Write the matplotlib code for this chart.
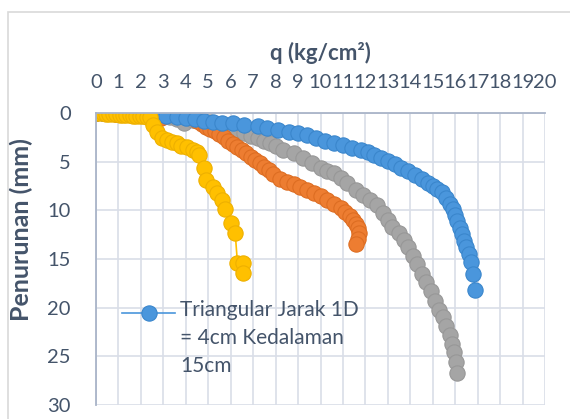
import matplotlib
matplotlib.use('Agg')
import matplotlib.pyplot as plt
from matplotlib.patches import Rectangle
from matplotlib.lines import Line2D

# Data: q (kg/cm2) vs settlement (mm)
blue_q = [0, 0.3, 0.6, 0.9, 1.2, 1.6, 2.0, 2.4, 2.7, 3.1, 3.6, 4.0, 4.4, 4.8, 5.2,
          5.6, 6.1, 6.6, 7.2, 7.6, 8.1, 8.6, 9.0, 9.4, 9.8, 10.2, 10.6, 11.0, 11.4,
          11.8, 12.1, 12.4, 12.7, 13.0, 13.3, 13.6, 13.9, 14.2, 14.5, 14.8, 15.0,
          15.2, 15.4, 15.6, 15.75, 15.9, 16.0, 16.1, 16.2, 16.3, 16.4, 16.5, 16.6,
          16.7, 16.8, 16.9]
blue_s = [0, 0, 0.02, 0.05, 0.08, 0.1, 0.1, 0.15, 0.2, 0.3, 0.45, 0.55, 0.65, 0.8,
          0.9, 1.0, 1.05, 1.2, 1.35, 1.5, 1.7, 2.0, 2.1, 2.3, 2.6, 2.9, 3.1, 3.3,
          3.6, 3.8, 4.0, 4.3, 4.6, 4.9, 5.2, 5.6, 6.0, 6.4, 6.8, 7.2, 7.5, 7.8,
          8.1, 8.7, 9.3, 9.9, 10.5, 11.1, 11.8, 12.4, 13.1, 13.8, 14.5, 15.3,
          16.5, 18.2]

orange_q = [0, 0.3, 0.6, 0.9, 1.2, 1.5, 1.8, 2.1, 2.4, 2.7, 2.9, 4.3, 4.5, 4.7, 4.9,
            5.1, 5.3, 5.5, 5.7, 5.9, 6.1, 6.3, 6.5, 6.7, 6.9, 7.1, 7.3, 7.5, 7.7,
            7.9, 8.2, 8.5, 8.8, 9.1, 9.4, 9.7, 10.0, 10.3, 10.6, 10.9, 11.1, 11.3,
            11.45, 11.6, 11.65, 11.7, 11.65, 11.6]
orange_s = [0, 0.02, 0.05, 0.08, 0.1, 0.15, 0.2, 0.25, 0.3, 0.4, 0.5, 0.5, 0.8, 1.1,
            1.4, 1.6, 1.9, 2.2, 2.5, 2.9, 3.2, 3.5, 3.8, 4.1, 4.5, 4.8, 5.1, 5.5,
            5.9, 6.3, 6.8, 7.1, 7.3, 7.6, 7.9, 8.2, 8.5, 8.9, 9.3, 9.8, 10.2, 10.6,
            11.0, 11.4, 11.8, 12.3, 12.9, 13.5]

gray_q = [0, 0.3, 0.6, 0.9, 1.2, 1.5, 1.8, 2.1, 2.4, 2.7, 3.0, 3.3, 3.6, 3.9, 4.3,
          4.6, 5.1, 5.5, 5.8, 6.2, 6.6, 6.9, 7.2, 7.5, 7.75, 8.0, 8.35, 8.8, 9.2,
          9.6, 10.0, 10.3, 10.6, 10.9, 11.2, 11.6, 11.9, 12.2, 12.5, 12.8, 13.0,
          13.2, 13.5, 13.7, 13.9, 14.1, 14.3, 14.5, 14.7, 14.9, 15.1, 15.3, 15.45,
          15.6, 15.75, 15.85, 15.95, 16.05, 16.1]
gray_s = [0, 0.02, 0.05, 0.08, 0.1, 0.12, 0.15, 0.2, 0.25, 0.3, 0.35, 0.4, 0.6, 1.0,
          0.7, 0.7, 0.9, 1.1, 1.4, 1.8, 2.1, 2.4, 2.6, 2.9, 3.1, 3.4, 3.8, 4.1,
          4.6, 5.1, 5.7, 6.0, 6.2, 6.7, 7.2, 7.9, 8.4, 8.9, 9.5, 10.3, 11.0, 11.7,
          12.3, 13.0, 13.8, 14.7, 15.5, 16.5, 17.4, 18.3, 19.3, 20.2, 21.0, 21.9,
          22.8, 23.7, 24.6, 25.6, 26.7]

yellow_q = [0, 0.15, 0.3, 0.45, 0.6, 0.75, 0.9, 1.05, 1.2, 1.35, 1.5, 1.65, 1.8,
            1.95, 2.1, 2.25, 2.4, 2.55, 2.7, 2.95, 3.15, 3.4, 3.6, 3.8, 4.05, 4.3,
            4.5, 4.6, 4.8, 4.9, 5.2, 5.4, 5.6, 5.75, 6.0, 6.2, 6.3, 6.55, 6.55]
yellow_s = [0, 0.02, 0.05, 0.07, 0.1, 0.12, 0.15, 0.17, 0.2, 0.22, 0.25, 0.27, 0.3,
            0.32, 0.35, 0.37, 0.4, 1.2, 2.0, 2.6, 2.8, 3.0, 3.1, 3.4, 3.5, 3.8,
            4.0, 4.3, 5.7, 6.9, 7.6, 8.2, 8.9, 9.9, 11.3, 12.3, 15.4, 15.4, 16.4]

legend_label = 'Triangular Jarak 1D\n= 4cm Kedalaman\n15cm'
x_ticks = list(range(0, 21))
y_ticks = [0, 5, 10, 15, 20, 25, 30]

txt = '#44546A'
plt.rcParams['font.family'] = ['Lato', 'DejaVu Sans']

fig = plt.figure(figsize=(5.7, 4.19), dpi=100)
fig.patches.append(Rectangle((8 / 570, -0.1), 1.1, (419 - 12) / 419 + 0.1,
                             transform=fig.transFigure, fill=False,
                             edgecolor='#D9D9D9', lw=1.2))
ax = fig.add_axes([96 / 570, 14 / 419, 449 / 570, 292 / 419])

series = [
    (gray_q, gray_s, '#A5A5A5', '#979797'),
    (orange_q, orange_s, '#ED7D31', '#DD6D22'),
    (blue_q, blue_s, '#4A96DC', '#3A86CC'),
    (yellow_q, yellow_s, '#FFC000', '#EEB000'),
]
for q, s, c, ec in series:
    ax.plot(q, s, color=c, lw=1.2, marker='o', markersize=11,
            markerfacecolor=c, markeredgecolor=ec, markeredgewidth=0.8)

ax.set_xlim(0, 20)
ax.set_ylim(30, 0)
ax.xaxis.tick_top()
ax.xaxis.set_label_position('top')
ax.set_xticks(x_ticks)
ax.set_yticks(y_ticks)
ax.tick_params(axis='both', length=0, labelsize=14.5, colors=txt)
ax.tick_params(axis='x', pad=16)
ax.tick_params(axis='y', pad=18)
ax.set_xlabel('q (kg/cm²)', fontsize=16, fontweight='bold', color=txt, labelpad=10)
ax.set_ylabel('Penurunan (mm)', fontsize=18, fontweight='bold', color=txt)
ax.yaxis.set_label_coords(-0.14, 0.6)
ax.grid(True, color='#D9DEE8', lw=1.2)
ax.set_axisbelow(True)
for side in ['right', 'bottom']:
    ax.spines[side].set_visible(False)
for side in ['left', 'top']:
    ax.spines[side].set_color('#A9B4C8')
    ax.spines[side].set_linewidth(1.3)

# legend entry for the blue series only (as in the source chart)
fig.lines.append(Line2D([122 / 570, 175 / 570], [1 - 313 / 419] * 2,
                        transform=fig.transFigure, color='#4A96DC', lw=1.2))
fig.lines.append(Line2D([149 / 570], [1 - 313 / 419], transform=fig.transFigure,
                        color='#4A96DC', marker='o', markersize=11, markeredgecolor='#3A86CC',
                        markeredgewidth=0.8, lw=0))
fig.text(180 / 570, 1 - 300 / 419, legend_label, fontsize=15, color=txt,
         va='top', ha='left', linespacing=1.5)

fig.savefig('out.png', dpi=100)
